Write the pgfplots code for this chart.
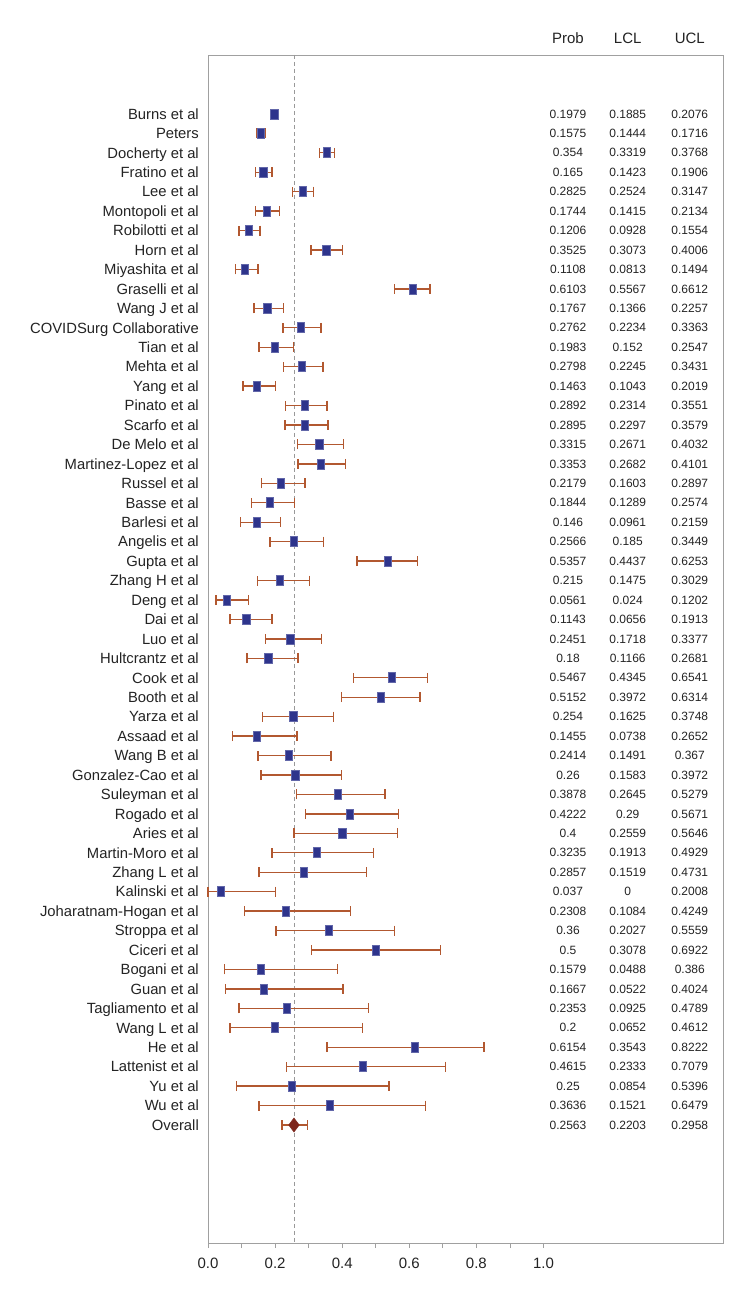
\documentclass[border=0pt]{standalone}
\usepackage{pgfplots}
\usepackage{pgfplotstable}
\pgfplotsset{compat=1.18}
\usepackage{fontspec}
\setmainfont{Liberation Sans}
\definecolor{errc}{RGB}{178,88,48}
\definecolor{sqc}{RGB}{46,52,140}
\definecolor{dia}{RGB}{125,38,28}
\definecolor{frm}{RGB}{160,160,160}
\definecolor{txt}{RGB}{35,35,35}
\pgfplotstableread[col sep=comma]{
r,name,prob,lcl,ucl
1,Burns et al,0.1979,0.1885,0.2076
2,Peters,0.1575,0.1444,0.1716
3,Docherty et al,0.354,0.3319,0.3768
4,Fratino et al,0.165,0.1423,0.1906
5,Lee et al,0.2825,0.2524,0.3147
6,Montopoli et al,0.1744,0.1415,0.2134
7,Robilotti et al,0.1206,0.0928,0.1554
8,Horn et al,0.3525,0.3073,0.4006
9,Miyashita et al,0.1108,0.0813,0.1494
10,Graselli et al,0.6103,0.5567,0.6612
11,Wang J et al,0.1767,0.1366,0.2257
12,COVIDSurg Collaborative,0.2762,0.2234,0.3363
13,Tian et al,0.1983,0.152,0.2547
14,Mehta et al,0.2798,0.2245,0.3431
15,Yang et al,0.1463,0.1043,0.2019
16,Pinato et al,0.2892,0.2314,0.3551
17,Scarfo et al,0.2895,0.2297,0.3579
18,De Melo et al,0.3315,0.2671,0.4032
19,Martinez-Lopez et al,0.3353,0.2682,0.4101
20,Russel et al,0.2179,0.1603,0.2897
21,Basse et al,0.1844,0.1289,0.2574
22,Barlesi et al,0.146,0.0961,0.2159
23,Angelis et al,0.2566,0.185,0.3449
24,Gupta et al,0.5357,0.4437,0.6253
25,Zhang H et al,0.215,0.1475,0.3029
26,Deng et al,0.0561,0.024,0.1202
27,Dai et al,0.1143,0.0656,0.1913
28,Luo et al,0.2451,0.1718,0.3377
29,Hultcrantz et al,0.18,0.1166,0.2681
30,Cook et al,0.5467,0.4345,0.6541
31,Booth et al,0.5152,0.3972,0.6314
32,Yarza et al,0.254,0.1625,0.3748
33,Assaad et al,0.1455,0.0738,0.2652
34,Wang B et al,0.2414,0.1491,0.367
35,Gonzalez-Cao et al,0.26,0.1583,0.3972
36,Suleyman et al,0.3878,0.2645,0.5279
37,Rogado et al,0.4222,0.29,0.5671
38,Aries et al,0.4,0.2559,0.5646
39,Martin-Moro et al,0.3235,0.1913,0.4929
40,Zhang L et al,0.2857,0.1519,0.4731
41,Kalinski et al,0.037,0,0.2008
42,Joharatnam-Hogan et al,0.2308,0.1084,0.4249
43,Stroppa et al,0.36,0.2027,0.5559
44,Ciceri et al,0.5,0.3078,0.6922
45,Bogani et al,0.1579,0.0488,0.386
46,Guan et al,0.1667,0.0522,0.4024
47,Tagliamento et al,0.2353,0.0925,0.4789
48,Wang L et al,0.2,0.0652,0.4612
49,He et al,0.6154,0.3543,0.8222
50,Lattenist et al,0.4615,0.2333,0.7079
51,Yu et al,0.25,0.0854,0.5396
52,Wu et al,0.3636,0.1521,0.6479
53,Overall,0.2563,0.2203,0.2958
}\data
\begin{document}
\begin{tikzpicture}
\path[use as bounding box] (0,0) rectangle (751pt,-1304pt);
\begin{axis}[
  at={(208pt,-1243pt)}, anchor=south west,
  scale only axis, width=515pt, height=1188pt,
  xmin=0, xmax=1.535, ymin=-2.03, ymax=59.07, y dir=reverse,
  clip=false,
  axis line style={frm, line width=0.8pt},
  xtick={0,0.2,0.4,0.6,0.8,1.0},
  xticklabels={0.0,0.2,0.4,0.6,0.8,1.0},
  minor xtick={0.1,0.3,0.5,0.7,0.9},
  xtick pos=bottom, tick align=outside,
  major tick length=5pt, minor tick length=5pt,
  tick style={frm, line width=0.8pt},
  xticklabel style={font=\fontsize{15}{18}\selectfont, text=txt, yshift=-6pt},
  ytick={1,...,53},
  yticklabels from table={\data}{name},
  ytick style={draw=none},
  yticklabel style={font=\fontsize{14.8}{17}\selectfont, text=txt, anchor=east, inner sep=0pt, xshift=-4pt, text height=10.6pt, text depth=0pt},
]
\addplot[gray!80, dash pattern=on 4pt off 3pt, line width=0.7pt] coordinates {(0.2563,-2.03) (0.2563,59.07)};
\addplot[only marks, mark=square*, mark size=5pt,
  mark options={xscale=0.72, fill=sqc, draw=sqc!75!white, line width=0.6pt},
  restrict y to domain=1:52,
  error bars/.cd, x dir=both, x explicit,
  error bar style={errc, line width=1.4pt},
  error mark options={errc, mark size=5pt, line width=1.4pt, rotate=90}]
  table[x=prob, y=r, x error plus expr=\thisrow{ucl}-\thisrow{prob}, x error minus expr=\thisrow{prob}-\thisrow{lcl}] {\data};
\addplot[only marks, mark=diamond*, mark size=7pt,
  mark options={fill=dia, draw=dia, line width=0.5pt},
  restrict y to domain=53:53,
  error bars/.cd, x dir=both, x explicit,
  error bar style={errc, line width=1.4pt},
  error mark options={errc, mark size=5pt, line width=1.4pt, rotate=90}]
  table[x=prob, y=r, x error plus expr=\thisrow{ucl}-\thisrow{prob}, x error minus expr=\thisrow{prob}-\thisrow{lcl}] {\data};
\addplot[only marks, mark=none, nodes near coords, point meta=explicit symbolic,
  nodes near coords style={anchor=center, font=\fontsize{12}{14}\selectfont, text=txt, inner sep=0pt}]
  table[x expr=1.073, y=r, meta=prob] {\data};
\addplot[only marks, mark=none, nodes near coords, point meta=explicit symbolic,
  nodes near coords style={anchor=center, font=\fontsize{12}{14}\selectfont, text=txt, inner sep=0pt}]
  table[x expr=1.251, y=r, meta=lcl] {\data};
\addplot[only marks, mark=none, nodes near coords, point meta=explicit symbolic,
  nodes near coords style={anchor=center, font=\fontsize{12}{14}\selectfont, text=txt, inner sep=0pt}]
  table[x expr=1.436, y=r, meta=ucl] {\data};
\node[font=\fontsize{15}{18}\selectfont, text=txt] at ([yshift=17pt]axis cs:1.073,-2.03) {Prob};
\node[font=\fontsize{15}{18}\selectfont, text=txt] at ([yshift=17pt]axis cs:1.251,-2.03) {LCL};
\node[font=\fontsize{15}{18}\selectfont, text=txt] at ([yshift=17pt]axis cs:1.436,-2.03) {UCL};
\end{axis}
\end{tikzpicture}
\end{document}
